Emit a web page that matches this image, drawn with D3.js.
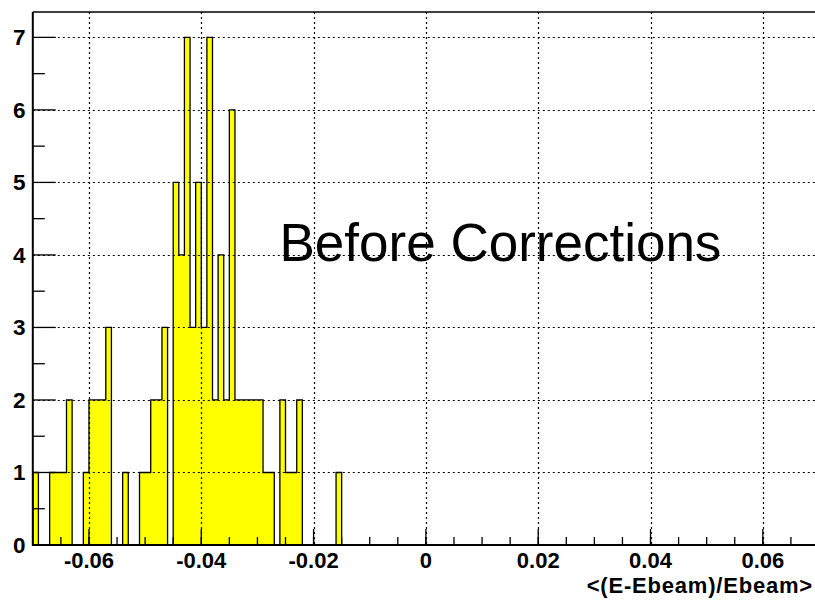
<!DOCTYPE html>
<html>
<head>
<meta charset="utf-8">
<script src="https://cdn.jsdelivr.net/npm/d3@7"></script>
<style>
  html, body { margin: 0; padding: 0; background: #fff; }
  svg { display: block; }
</style>
</head>
<body>
<svg id="chart" width="815" height="601"></svg>
<script>
// Histogram of <(E-Ebeam)/Ebeam>, bins of width 0.001 starting at -0.07
const binStart = -0.07;
const binWidth = 0.001;
const counts = [
  1, 0, 0, 1, 1, 1, 2, 0, 0, 1,
  2, 2, 2, 3, 0, 0, 1, 0, 0, 1,
  1, 2, 2, 3, 0, 5, 4, 7, 3, 5,
  3, 7, 2, 4, 2, 6, 2, 2, 2, 2,
  2, 1, 1, 0, 2, 1, 1, 2, 0, 0,
  0, 0, 0, 0, 1
];
const xDomain = [-0.07, 0.07];
const yDomain = [0, 7.35];
const xTickValues = [-0.06, -0.04, -0.02, 0, 0.02, 0.04, 0.06];
const xTickLabels = ["-0.06", "-0.04", "-0.02", "0", "0.02", "0.04", "0.06"];
const yTickValues = [0, 1, 2, 3, 4, 5, 6, 7];
const yTickLabels = ["0", "1", "2", "3", "4", "5", "6", "7"];
const xTitle = "<(E-Ebeam)/Ebeam>";
const annotation = "Before Corrections";

const svg = d3.select("#chart");
const frame = { left: 32.8, right: 819, top: 12, bottom: 545 };

const x = d3.scaleLinear().domain(xDomain).range([frame.left, frame.right]);
const y = d3.scaleLinear().domain(yDomain).range([frame.bottom, frame.top]);

svg.append("rect").attr("width", 815).attr("height", 601).attr("fill", "#fff");

// bins as (lower edge, count) pairs, plus closing edge
const pts = counts.map((c, i) => [binStart + i * binWidth, c]);
const lastEdge = binStart + counts.length * binWidth;
pts.push([lastEdge, counts[counts.length - 1]]);

const area = d3.area()
  .curve(d3.curveStepAfter)
  .x(d => x(d[0]))
  .y0(y(0))
  .y1(d => y(d[1]));

svg.append("path")
  .attr("d", area(pts))
  .attr("fill", "#ffff00")
  .attr("stroke", "none");

const outlinePts = [[binStart, 0]].concat(pts, [[lastEdge, 0], [xDomain[1], 0]]);
const line = d3.line()
  .curve(d3.curveStepAfter)
  .x(d => x(d[0]))
  .y(d => y(d[1]));

svg.append("path")
  .attr("d", line(outlinePts))
  .attr("fill", "none")
  .attr("stroke", "#000")
  .attr("stroke-width", 1.3);

// annotation text
svg.append("text")
  .attr("x", 279.5)
  .attr("y", 261)
  .attr("font-family", "'Liberation Sans', Arial, Helvetica, sans-serif")
  .attr("font-size", 53)
  .attr("fill", "#000")
  .text(annotation);

// dotted grid
const grid = svg.append("g")
  .attr("stroke", "#000")
  .attr("stroke-width", 1.2)
  .attr("stroke-dasharray", "2,3");

grid.selectAll("line.gx").data(xTickValues).enter().append("line")
  .attr("x1", d => Math.round(x(d)) + 0.5).attr("x2", d => Math.round(x(d)) + 0.5)
  .attr("y1", frame.top).attr("y2", frame.bottom);

grid.selectAll("line.gy").data(yTickValues.filter(v => v > 0)).enter().append("line")
  .attr("y1", d => Math.round(y(d)) + 0.5).attr("y2", d => Math.round(y(d)) + 0.5)
  .attr("x1", frame.left).attr("x2", 815);

// frame top
svg.append("line")
  .attr("x1", frame.left).attr("x2", 815)
  .attr("y1", frame.top).attr("y2", frame.top)
  .attr("stroke", "#000").attr("stroke-width", 1.5);

// ticks
const ticks = svg.append("g").attr("stroke", "#000").attr("stroke-width", 1.3);
const xMinor = d3.range(-0.065, 0.0651, 0.005);
ticks.selectAll("line.xm").data(xMinor).enter().append("line")
  .attr("x1", d => x(d)).attr("x2", d => x(d))
  .attr("y1", frame.bottom).attr("y2", frame.bottom - 8);
ticks.selectAll("line.xM").data(xTickValues).enter().append("line")
  .attr("x1", d => x(d)).attr("x2", d => x(d))
  .attr("y1", frame.bottom).attr("y2", frame.bottom - 16);

const yMinor = d3.range(0.5, 7.35, 1);
ticks.selectAll("line.ym").data(yMinor).enter().append("line")
  .attr("y1", d => y(d)).attr("y2", d => y(d))
  .attr("x1", frame.left).attr("x2", frame.left + 12);
ticks.selectAll("line.yM").data(yTickValues).enter().append("line")
  .attr("y1", d => y(d)).attr("y2", d => y(d))
  .attr("x1", frame.left).attr("x2", frame.left + 23);

// axis lines
svg.append("line")
  .attr("x1", frame.left).attr("x2", 815)
  .attr("y1", frame.bottom).attr("y2", frame.bottom)
  .attr("stroke", "#000").attr("stroke-width", 2);
svg.append("line")
  .attr("x1", frame.left).attr("x2", frame.left)
  .attr("y1", frame.top).attr("y2", frame.bottom + 1)
  .attr("stroke", "#000").attr("stroke-width", 2);

// tick labels
const labelFont = "'Liberation Sans', Arial, Helvetica, sans-serif";
svg.selectAll("text.xl").data(xTickValues).enter().append("text")
  .attr("x", d => x(d))
  .attr("y", 567.5)
  .attr("text-anchor", "middle")
  .attr("font-family", labelFont)
  .attr("font-weight", "bold")
  .attr("font-size", 22)
  .text((d, i) => xTickLabels[i]);

svg.selectAll("text.yl").data(yTickValues).enter().append("text")
  .attr("x", 25.5)
  .attr("y", d => y(d) + 8)
  .attr("text-anchor", "end")
  .attr("font-family", labelFont)
  .attr("font-weight", "bold")
  .attr("font-size", 22.5)
  .text((d, i) => yTickLabels[i]);

// axis title
svg.append("text")
  .attr("x", 813)
  .attr("y", 593)
  .attr("text-anchor", "end")
  .attr("font-family", labelFont)
  .attr("font-weight", "bold")
  .attr("font-size", 22)
  .attr("letter-spacing", 0.8)
  .text(xTitle);
</script>
</body>
</html>
